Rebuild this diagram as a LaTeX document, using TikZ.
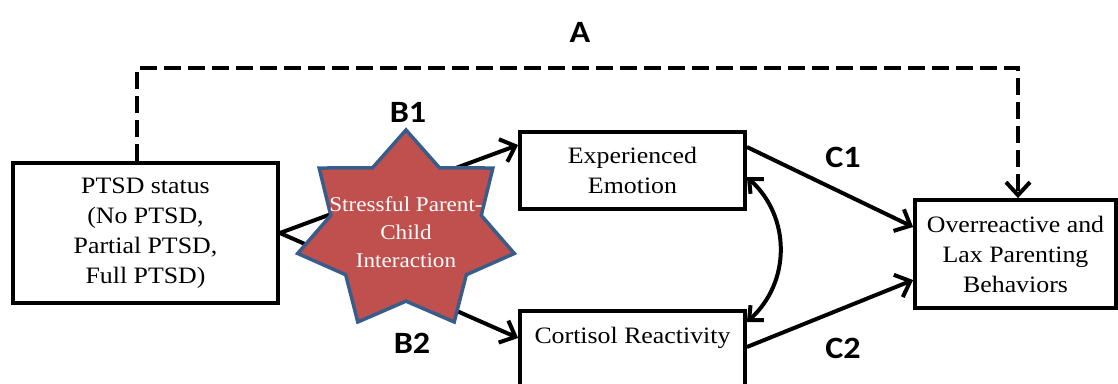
\documentclass[tikz,border=0pt]{standalone}
\usepackage{fontspec}
\setmainfont{Liberation Serif}[FakeStretch=1.1]
\newfontfamily\labfont{Carlito}[FakeStretch=1.1]
\usetikzlibrary{arrows.meta,shapes.geometric}
\definecolor{starred}{HTML}{C0504D}
\definecolor{starblue}{HTML}{385D8A}
\begin{document}
\begin{tikzpicture}[x=1pt,y=-1pt,
  box/.style={draw, line width=3.8pt, align=center, inner sep=0pt, font=\fontsize{23.5}{30}\selectfont},
  lab/.style={font=\labfont\bfseries\fontsize{31}{31}\selectfont},
  arr/.style={line width=4pt, -{Straight Barb[length=13pt,width=24pt,line width=4pt]}},
  dblarr/.style={line width=4pt, {Straight Barb[length=11pt,width=20pt,line width=4pt]}-{Straight Barb[length=11pt,width=20pt,line width=4pt]}},
  dasharr/.style={line width=4.5pt, dash pattern=on 17pt off 7pt, -{Straight Barb[length=13pt,width=24pt,line width=4pt]}}]
\useasboundingbox (0,0) rectangle (1118,383);
\node[box, minimum width=265, minimum height=140] (ptsd) at (145.5,233) {PTSD status\\(No PTSD,\\Partial PTSD,\\Full PTSD)};
\node[box, minimum width=225, minimum height=77] (emo) at (632.5,170.5) {Experienced\\Emotion};
\node[box, minimum width=225, inner ysep=16pt, anchor=north] (cort) at (632.5,309) {Cortisol Reactivity\\~};
\node[box, minimum width=201, minimum height=108] (over) at (1015.5,254) {Overreactive and\\Lax Parenting\\Behaviors};
\coordinate (atop) at (580,68);
\coordinate (sc) at (406,231);
\draw[dasharr] ([xshift=-8.5pt]ptsd.north) |- (atop) -| ([xshift=2.5pt]over.north);
\draw[arr] (ptsd.east) -- ([yshift=25.5pt]emo.west);
\draw[arr] (ptsd.east) -- ([yshift=-29pt]cort.north west);
\draw[arr] ([yshift=23.5pt]emo.east) -- ([yshift=27pt]over.west);
\draw[arr] ([yshift=-38pt]cort.north east) -- ([yshift=-26pt]over.west);
\draw[dblarr] ([yshift=-6.5pt]emo.east) .. controls +(44,40) and +(44,-40) .. ([yshift=-13pt]cort.north east);
\node[star, star points=7, star point ratio=1.44, minimum size=202, xscale=1.1, inner sep=0pt, fill=starred, draw=starblue, line width=3.5pt] (stress) at (sc) {};
\node[text=white, align=center, font=\fontsize{21}{28}\selectfont] (stresstxt) at (406,232) {Stressful Parent-\\Child\\Interaction};
\node[lab] (A) at (580,32) {A};
\node[lab] (B1) at (408,112) {B1};
\node[lab] (B2) at (412,343) {B2};
\node[lab] (C1) at (843,157) {C1};
\node[lab] (C2) at (843,348) {C2};
\end{tikzpicture}
\end{document}
